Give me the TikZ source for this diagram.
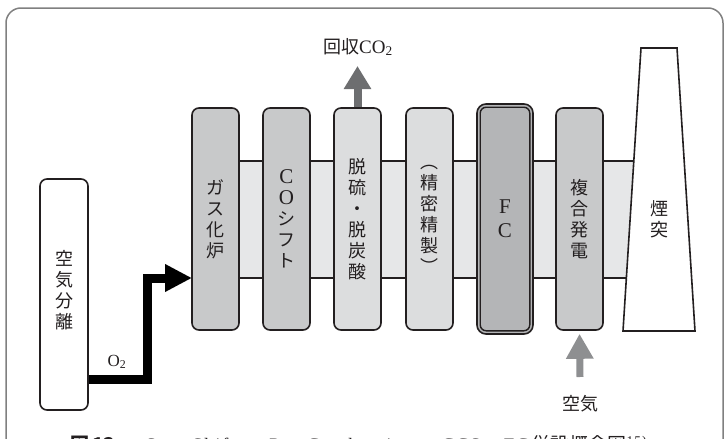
\documentclass[tikz,border=0pt]{standalone}
\usepackage{fontspec}
\setmainfont{Liberation Serif}
\newfontfamily\jp{Noto Sans CJK JP}
\newfontfamily\capfont[LetterSpace=8]{Liberation Serif}
\usetikzlibrary{arrows.meta}
\definecolor{ink}{HTML}{231F20}
\definecolor{framec}{HTML}{808080}
\definecolor{bandc}{HTML}{E6E7E8}
\definecolor{midc}{HTML}{C8C9CA}
\definecolor{lightc}{HTML}{DCDDDE}
\definecolor{darkc}{HTML}{B4B5B7}
\definecolor{co2c}{HTML}{6D6E70}
\definecolor{airc}{HTML}{8E8F91}
\begin{document}
\begin{tikzpicture}[x=1pt,y=-1pt,
  col/.style={draw=ink, line width=1.6pt, rounded corners=7pt, minimum width=47pt,
    minimum height=222pt, inner sep=0pt, align=center, text=ink,
    font=\jp\fontsize{18}{21}\selectfont},
  lbl/.style={inner sep=0pt, text=ink, font=\fontsize{17}{20}\selectfont},
  o2arrow/.style={draw=black, line width=9pt, line join=miter,
    -{Triangle[length=27pt,width=26pt]}},
  grayarrow/.style={line width=8pt, -{Triangle[length=23pt,width=26pt]}}
]
\useasboundingbox (0,0) rectangle (724,439);
\clip (0,0) rectangle (724,439);
% frame
\draw[framec, line width=1.5pt, rounded corners=15pt] (6,8) rectangle (723,470);
% band
\draw[fill=bandc, draw=ink, line width=1.5pt] (230,161) rectangle (650,278);
% columns
\node[col, fill=midc] (gas) at (215.5,219) {ガ\\ス\\化\\炉};
\node[col, fill=midc] (cos) at (286.5,219) {{\rmfamily\fontsize{21}{21}\selectfont C}\\{\rmfamily\fontsize{21}{21}\selectfont O}\\シ\\フ\\ト};
\node[col, fill=lightc] (des) at (357.5,219) {脱\\硫\\・\\脱\\炭\\酸};
\node[col, fill=lightc] (pur) at (429.5,219) {︵\\精\\密\\精\\製\\︶};
\node[col, fill=darkc, minimum width=56pt, minimum height=230pt, rounded corners=9pt,
  font=\rmfamily\fontsize{21}{24}\selectfont] (fc) at (505,219) {F\\C};
\draw[ink, line width=1.4pt, rounded corners=6pt] ([shift={(4,4)}]fc.north west) rectangle ([shift={(-4,-4)}]fc.south east);
\node[col, fill=midc] (comb) at (579.5,219) {複\\合\\発\\電};
% chimney
\draw[fill=white, draw=ink, line width=1.6pt, line join=miter] (641,48) -- (677,48) -- (695,331) -- (623,331) -- cycle;
\node[lbl, font=\jp\fontsize{18}{21}\selectfont, align=center] (chim) at (659,219) {煙\\突};
% air separation
\node[col, fill=white, minimum width=48pt, minimum height=231pt] (air) at (64,294.5) {};
\node[lbl, font=\jp\fontsize{18}{21}\selectfont, align=center] (airt) at (64,290) {空\\気\\分\\離};
% O2 arrow
\coordinate (o2y) at (0,379);
\coordinate (bend) at (147.5,379);
\coordinate (bend2) at (147.5,278);
\coordinate (gasin) at (192,278);
\draw[o2arrow] (air.east |- o2y) -- (bend) -- (bend2) -- (gasin);
\node[lbl, font=\fontsize{17}{20}\selectfont] (o2) at (117,362) {O\textsubscript{2}};
% CO2 arrow
\coordinate (co2tip) at (357.5,66);
\draw[grayarrow, co2c] (des.north) -- (co2tip);
\node[lbl, font=\fontsize{19}{22}\selectfont] (co2) at (358,47) {{\jp\fontsize{18}{22}\selectfont 回収}CO\textsubscript{2}};
% air arrow
\coordinate (airtail) at (580,377);
\draw[grayarrow, airc, line width=7pt, -{Triangle[length=25pt,width=26pt]}, shorten >=3pt] (airtail) -- (comb.south);
\node[lbl, font=\jp\fontsize{18}{21}\selectfont] (airlbl) at (580,404) {空気};
% caption
\node[lbl, font=\capfont\fontsize{19}{22}\selectfont, anchor=base west] (cap) at (70,451.5)
  {{\jp\bfseries 図\,13}\hspace{30pt}Sour Shift\hspace{34pt}Pre-Combustion\hspace{28pt}CCS + FC\,{\jp 併設概念図}\textsuperscript{15)}};
\end{tikzpicture}
\end{document}
